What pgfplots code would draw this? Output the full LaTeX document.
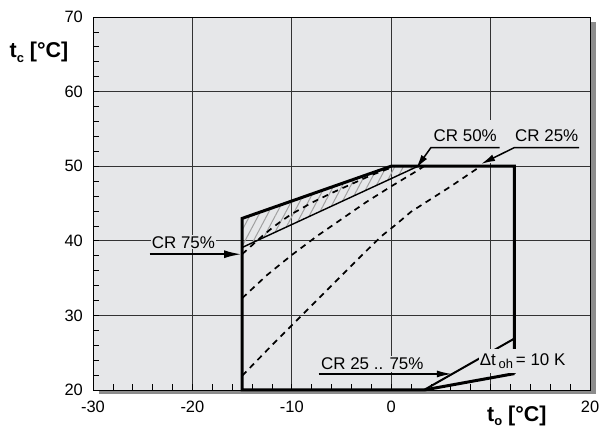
\documentclass[border=0pt]{standalone}
\usepackage{pgfplots}
\pgfplotsset{compat=1.18}
\usepackage{fontspec}
\setmainfont{Liberation Sans}
\usetikzlibrary{arrows.meta,patterns.meta}
\definecolor{bgc}{RGB}{230,231,233}
\definecolor{shadowc}{RGB}{140,140,140}
\definecolor{hatchc}{RGB}{160,160,160}
\newcommand\fs[1]{\fontsize{#1}{#1}\selectfont}
\newcommand\sub[1]{\raisebox{-0.22em}{\fontsize{13}{13}\selectfont #1}}
\begin{document}
\begin{tikzpicture}
\path[use as bounding box] (0,0) rectangle (601bp,430bp);
\fill[shadowc] (99bp,36bp) rectangle (596bp,408bp);
\begin{axis}[
  at={(93bp,40bp)}, anchor=south west,
  scale only axis, width=497bp, height=373bp,
  xmin=-30, xmax=20, ymin=20, ymax=70,
  axis background/.style={fill=bgc},
  axis line style={black, line width=0.8bp},
  xtick={-30,-20,-10,0,10,20},
  xticklabels={-30,-20,-10,0,,20},
  ytick={20,30,40,50,60,70},
  yticklabels={20,30,40,50,60,70},
  minor xtick={-28,-26,...,18},
  minor ytick={22,24,...,68},
  tick pos=left, tick align=inside,
  major tick length=0pt, minor tick length=5.5bp,
  tick style={black, line width=0.7bp},
  grid=major,
  major grid style={black!80, line width=0.8bp},
  ticklabel style={font=\fs{16.5}, inner sep=0pt},
  xticklabel style={yshift=-11bp},
  yticklabel style={xshift=-10bp},
  /pgf/number format/assume math mode=true,
  clip=false,
]
% hatched area
\addplot[draw=none, pattern={Lines[angle=62,distance=7.5bp,line width=1bp]}, pattern color=hatchc]
  coordinates {(-15,43) (0,50) (2.7,50) (-15,39.1)};
% thin solid line
\addplot[black, line width=1.4bp] coordinates {(-15,39.1) (2.7,50)};
% CR 75% dashed
\addplot[black, line width=1.7bp, dash pattern=on 6bp off 5bp]
  coordinates {(-15,38.2) (-14,39.4) (-13,40.6) (-12,41.7) (-11,42.7) (-10,43.6) (-8,45.1) (-6,46.4) (-4,47.6) (-2,48.8) (0,49.8)};
% CR 50% dashed
\addplot[black, line width=1.7bp, dash pattern=on 6bp off 5bp]
  coordinates {(-15,32.3) (-12.5,35.4) (-10,38.1) (-7.5,40.6) (-5,42.9) (-2.5,45.2) (0,47.3) (2.5,49.3) (3.3,50)};
% CR 25% dashed
\addplot[black, line width=1.7bp, dash pattern=on 6bp off 5bp]
  coordinates {(-15,21.9) (-12,26.0) (-9,30.0) (-6,34.0) (-3,38.0) (-1,40.6) (0.5,42.2) (2,43.9) (4,45.6) (6,47.3) (8,49.1) (9,50)};
% CR 25..75% lower right limit
\addplot[black, line width=2bp] coordinates {(3.3,20) (12.4,26.9)};
% envelope
\addplot[black, line width=3bp, line join=miter]
  coordinates {(12.4,22.2) (12.4,50) (0,50) (-15,43) (-15,20) (3.3,20) (12.4,22.2)};
% label backgrounds
\fill[bgc] (axis cs:3.6,50.45) rectangle (axis cs:19.6,56.2);
\node[font=\fs{17}, anchor=base, fill=bgc, inner sep=1bp] at (axis cs:-20.9,39.0) {CR 75\%};
\draw[line width=1.8bp, -{Latex[length=17bp,width=8bp]}] (axis cs:-24.3,38.2) -- (axis cs:-15.1,38.2);
\node[font=\fs{17}, anchor=base] at (axis cs:7.45,53.3) {CR 50\%};
\node[font=\fs{17}, anchor=base] at (axis cs:15.65,53.3) {CR 25\%};
\draw[line width=1.5bp, -{Latex[length=14bp,width=7bp]}] (axis cs:10.9,52.5) -- (axis cs:4.0,52.5) -- (axis cs:2.5,49.7);
\draw[line width=1.5bp, -{Latex[length=14bp,width=7bp]}] (axis cs:18.9,52.5) -- (axis cs:12.4,52.5) -- (axis cs:9.05,50.3);
\node[font=\fs{17}, anchor=base, fill=bgc, inner xsep=1bp, inner ysep=2bp] at (axis cs:-1.9,22.7) {CR 25 .. 75\%};
\draw[line width=1.5bp, -{Latex[length=15bp,width=7bp]}] (axis cs:-7.3,22.15) -- (axis cs:6.1,22.15);
\node[font=\fs{17}, anchor=base west, fill=bgc, inner xsep=1bp, inner ysep=4bp] at (axis cs:8.8,23.35) {Δt\,\sub{oh}\,= 10 K};
\end{axis}
\node[font=\bfseries\fs{21.5}, anchor=base west, inner sep=0pt] at (9.5bp,372bp) {t\sub{c} [°C]};
\node[font=\bfseries\fs{21.5}, anchor=base west, inner sep=0pt] at (487bp,9bp) {t\sub{o} [°C]};
\end{tikzpicture}
\end{document}
